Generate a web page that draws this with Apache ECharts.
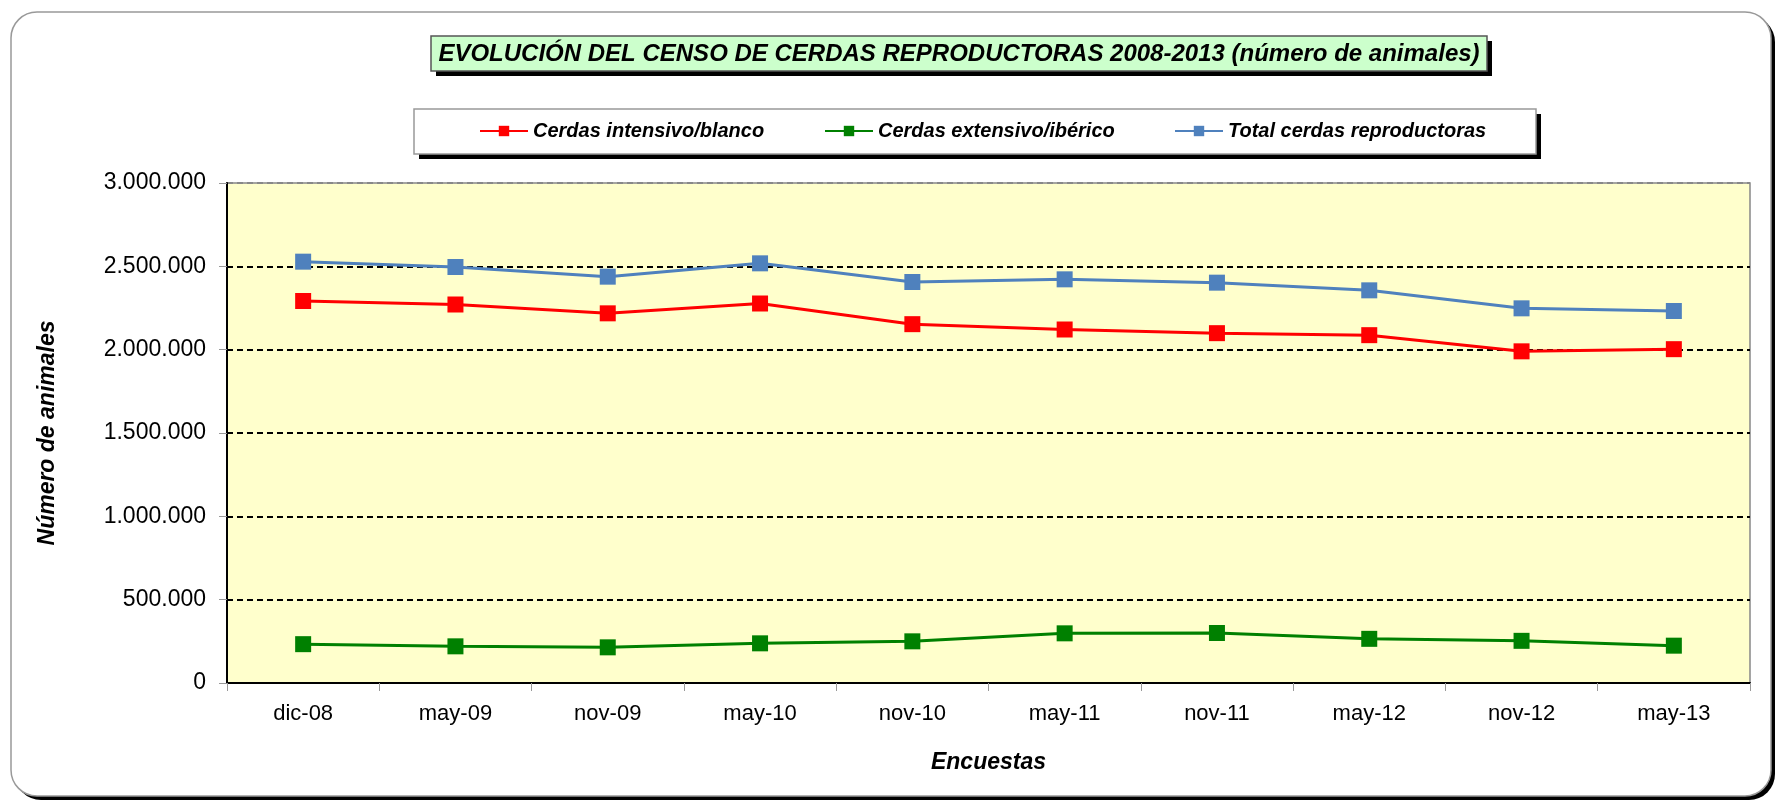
<!DOCTYPE html>
<html>
<head>
<meta charset="utf-8">
<script src="https://cdn.jsdelivr.net/npm/echarts@6/dist/echarts.min.js"></script>
<style>
  html, body { margin: 0; padding: 0; background: #fff; }
  #chart { width: 1778px; height: 804px; }
</style>
</head>
<body>
<div id="chart"></div>
<script>
var encuestas = ['dic-08', 'may-09', 'nov-09', 'may-10', 'nov-10', 'may-11', 'nov-11', 'may-12', 'nov-12', 'may-13'];
var intensivo = [2292000, 2271000, 2218000, 2277000, 2153000, 2121000, 2099000, 2087000, 1990000, 2003000];
var extensivo = [233000, 220000, 214000, 238000, 250000, 298000, 300000, 265000, 253000, 224000];
var total = [2528000, 2496000, 2438000, 2518000, 2406000, 2422000, 2402000, 2356000, 2248000, 2232000];
var nombres = ['Cerdas intensivo/blanco', 'Cerdas extensivo/ibérico', 'Total cerdas reproductoras'];
var colores = ['#FF0000', '#008000', '#4F81BD'];

var font = '"Liberation Sans", Arial, sans-serif';

function miles(v) {
  return String(v).replace(/\B(?=(\d{3})+(?!\d))/g, '.');
}

function serie(i, datos) {
  return {
    name: nombres[i],
    type: 'line',
    data: datos,
    symbol: 'rect',
    symbolSize: 16,
    itemStyle: { color: colores[i] },
    lineStyle: { color: colores[i], width: 3 },
    emphasis: { disabled: true }
  };
}

function leyenda(i, left) {
  return {
    data: [nombres[i]],
    left: left,
    top: 121,
    padding: 0,
    itemWidth: 48,
    itemHeight: 13,
    textStyle: { fontFamily: font, fontSize: 20, fontWeight: 'bold', fontStyle: 'italic', color: '#000' }
  };
}

// caja con sombra negra desplazada; z sube con cada caja
function caja(x, y, w, h, r, fill, stroke, off, z) {
  return [
    { type: 'rect', z: z, silent: true, shape: { x: x + off, y: y + off, width: w, height: h, r: r }, style: { fill: '#000' } },
    { type: 'rect', z: z + 1, silent: true, shape: { x: x, y: y, width: w, height: h, r: r }, style: { fill: fill, stroke: stroke, lineWidth: 1.5 } }
  ];
}

var graficos = []
  .concat(caja(11, 12, 1760, 784, 26, '#fff', '#999', 4, -20))
  .concat(caja(431, 36, 1056, 35, 0, '#CCFFCC', '#555', 5, -10))
  .concat(caja(414, 109, 1122, 45, 0, '#fff', '#999', 5, -10));
graficos.push({
  type: 'text', z: 2, silent: true,
  x: 959, y: 54,
  style: {
    text: 'EVOLUCIÓN DEL CENSO DE CERDAS REPRODUCTORAS 2008-2013 (número de animales)',
    font: 'italic bold 24px ' + font, fill: '#000',
    textAlign: 'center', textVerticalAlign: 'middle'
  }
});

var myChart = echarts.init(document.getElementById('chart'));
myChart.setOption({
  animation: false,
  backgroundColor: '#fff',
  graphic: graficos,
  legend: [leyenda(0, 479), leyenda(1, 824), leyenda(2, 1174)],
  grid: {
    left: 227, right: 28, top: 183, bottom: 121,
    show: true, backgroundColor: '#FFFFCC', borderColor: '#888', borderWidth: 1.5
  },
  xAxis: {
    type: 'category',
    data: encuestas,
    boundaryGap: true,
    name: 'Encuestas',
    nameLocation: 'middle',
    nameGap: 68,
    nameTextStyle: { fontFamily: font, fontSize: 23, fontWeight: 'bold', fontStyle: 'italic', color: '#000' },
    axisLine: { lineStyle: { color: '#000', width: 2 } },
    axisTick: { show: true, length: 8, lineStyle: { color: '#999', width: 1 } },
    axisLabel: { fontFamily: font, fontSize: 22, color: '#000', margin: 20 },
    splitLine: { show: false }
  },
  yAxis: {
    type: 'value',
    min: 0,
    max: 3000000,
    interval: 500000,
    name: 'Número de animales',
    nameLocation: 'middle',
    nameGap: 168,
    nameTextStyle: { fontFamily: font, fontSize: 23, fontWeight: 'bold', fontStyle: 'italic', color: '#000' },
    axisLine: { show: true, lineStyle: { color: '#000', width: 2 } },
    axisTick: { show: true, length: 8, lineStyle: { color: '#999', width: 1 } },
    axisLabel: { fontFamily: font, fontSize: 23, color: '#000', margin: 21, formatter: miles },
    splitLine: {
      show: true,
      lineStyle: { color: ['#000', '#000', '#000', '#000', '#000', '#000', '#888'], type: [6, 4], width: 2 }
    }
  },
  series: [serie(0, intensivo), serie(1, extensivo), serie(2, total)]
});
</script>
</body>
</html>
